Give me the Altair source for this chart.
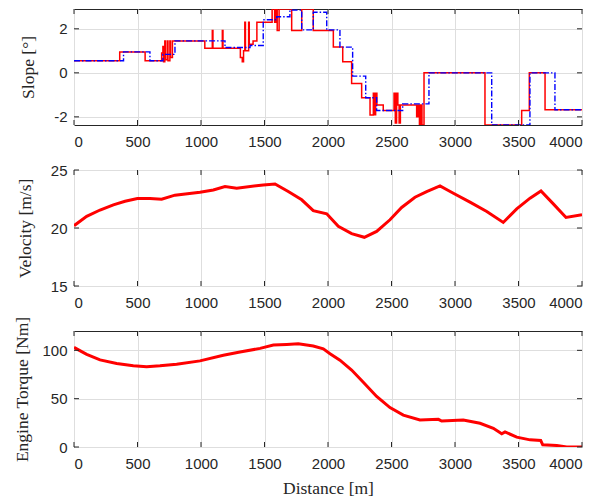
import altair as alt
import pandas as pd

# ---------------- data ----------------
# Slope, red solid series: step-change points (distance m, slope deg)
slope_red_x = [0, 360, 560, 690, 700, 705, 715, 720, 735, 740, 755, 760, 775,
               1030, 1089, 1094, 1168, 1173, 1310, 1325, 1335, 1345, 1350, 1375, 1380,
               1410, 1440, 1560, 1580, 1590, 1600, 1615, 1714, 1793, 1884,
               2042, 2116, 2186, 2265, 2331, 2357, 2365, 2375, 2385, 2409, 2435,
               2520, 2530, 2540, 2550, 2560, 2570, 2698, 2710, 2720, 2730, 2740, 2756,
               3236, 3525, 3585, 3709, 4000]
slope_red_y = [0.55, 0.95, 0.55, 0.9, 1.2, 0.5, 1.45, 0.6, 1.45, 0.55, 1.45, 0.7, 1.45,
               1.12, 1.92, 1.12, 1.92, 1.12, 0.7, 0.5, 1.0, 2.3, 1.0, 2.3, 1.3,
               1.45, 2.3, 2.9, 2.3, 2.9, 1.92, 2.9, 1.92, 2.9, 1.92,
               1.17, 0.5, -0.48, -1.13, -1.91, -0.93, -1.9, -0.93, -1.46, -1.46, -1.71,
               -0.93, -2.28, -0.93, -1.46, -2.28, -1.46, -2.0, -1.46, -2.37, -1.46, -2.37, 0.0,
               -2.37, -1.71, 0.0, -1.68, -1.68]

# Slope, blue dash-dot series
slope_blue_x = [0, 390, 598, 700, 795, 1189, 1386, 1490, 1596, 1700, 1793, 1884, 1990,
                2094, 2194, 2297, 2383, 2588, 2795, 3289, 3590, 3787, 4000]
slope_blue_y = [0.55, 0.95, 0.55, 0.84, 1.45, 1.15, 1.24, 2.41, 2.55, 2.85, 1.95, 2.75, 1.95,
                1.17, -0.15, -1.13, -1.71, -1.41, 0.0, -2.37, 0.0, -1.68, -1.68]

# Velocity [m/s]
vel_x = [0, 100, 205, 310, 402, 499, 598, 690, 795, 992, 1097, 1189, 1281, 1490, 1583,
         1687, 1793, 1884, 1990, 2081, 2186, 2286, 2383, 2488, 2580, 2685, 2777, 2882,
         2987, 3118, 3250, 3380, 3486, 3591, 3677, 3774, 3874, 4000]
vel_y = [20.2, 21.0, 21.55, 22.0, 22.3, 22.55, 22.55, 22.48, 22.83, 23.08, 23.28, 23.57,
         23.43, 23.71, 23.8, 23.14, 22.43, 21.5, 21.23, 20.14, 19.51, 19.2, 19.71, 20.71,
         21.77, 22.65, 23.14, 23.63, 23.0, 22.23, 21.43, 20.48, 21.65, 22.57, 23.2, 22.08,
         20.91, 21.15]

# Engine torque [Nm]
torque_x = [0, 100, 205, 336, 467, 572, 677, 808, 992, 1176, 1307, 1465, 1570, 1675,
            1766, 1884, 1963, 2016, 2094, 2186, 2278, 2383, 2488, 2593, 2724, 2869, 2895,
            3065, 3197, 3302, 3368, 3394, 3486, 3591, 3675, 3691, 3801, 3880, 4000]
torque_y = [103.0, 95.9, 90.1, 86.3, 84.0, 83.0, 84.0, 85.7, 89.1, 94.9, 98.3, 102.0,
            105.4, 106.1, 106.7, 104.4, 101.6, 96.5, 89.8, 79.6, 67.0, 52.3, 40.8, 33.0,
            27.9, 28.6, 26.8, 27.9, 24.5, 19.4, 13.6, 15.6, 10.2, 7.4, 6.7, 2.3, 1.6, 0.0, 0.0]

x_ticks = [0, 500, 1000, 1500, 2000, 2500, 3000, 3500, 4000]
slope_ticks = [-2, 0, 2]
vel_ticks = [15, 20, 25]
torque_ticks = [0, 50, 100]

# ---------------- chart ----------------
W, H = 508, 116
TL = 5
X_DOMAIN = [0, 4000]
FRAME = "#262626"
LABEL_FONT = "Liberation Sans"
TITLE_FONT = "Liberation Serif"


def x_enc(show_title):
    return alt.X(
        "d:Q",
        scale=alt.Scale(domain=X_DOMAIN, nice=False, zero=False),
        axis=alt.Axis(values=x_ticks, title="Distance [m]" if show_title else None,
                      labelPadding=9, titlePadding=8, labelExpr="'' + datum.value"),
    )


def y_enc(field, title, domain, ticks, tpad):
    return alt.Y(
        f"{field}:Q",
        scale=alt.Scale(domain=domain, nice=False, zero=False),
        axis=alt.Axis(values=ticks, title=title, labelPadding=7, titlePadding=tpad,
                      labelExpr="'' + datum.value"),
    )


def make_panel(lines, field, title, domain, yticks, tpad, show_xtitle):
    xe = x_enc(show_xtitle)
    ye = y_enc(field, title, domain, yticks, tpad)
    xs = pd.DataFrame({"d": x_ticks})
    ys = pd.DataFrame({field: yticks})
    rule = dict(color=FRAME, strokeWidth=1)
    top = alt.Chart(xs).mark_rule(**rule).encode(x=xe, y=alt.value(0), y2=alt.value(TL))
    bot = alt.Chart(xs).mark_rule(**rule).encode(x=xe, y=alt.value(H - TL), y2=alt.value(H))
    left = alt.Chart(ys).mark_rule(**rule).encode(y=ye, x=alt.value(0), x2=alt.value(TL))
    right = alt.Chart(ys).mark_rule(**rule).encode(y=ye, x=alt.value(W - TL), x2=alt.value(W))
    layers = [ch.encode(x=xe, y=ye) for ch in lines]
    return alt.layer(*layers, top, bot, left, right).properties(width=W, height=H)


red_df = pd.DataFrame({"d": slope_red_x, "s": slope_red_y})
blue_df = pd.DataFrame({"d": slope_blue_x, "s": slope_blue_y})
red_line = alt.Chart(red_df).mark_line(
    interpolate="step-after", color="#ff0000", strokeWidth=1.5, clip=True)
blue_line = alt.Chart(blue_df).mark_line(
    interpolate="step-after", color="#0000ff", strokeWidth=1.4,
    strokeDash=[6, 2, 1.5, 2], clip=True)
panel1 = make_panel([red_line, blue_line], "s", "Slope [°]", [-2.37, 2.9], slope_ticks, 16, False)

vel_df = pd.DataFrame({"d": vel_x, "v": vel_y})
vel_line = alt.Chart(vel_df).mark_line(color="#ff0000", strokeWidth=3, clip=True)
panel2 = make_panel([vel_line], "v", "Velocity [m/s]", [15, 25], vel_ticks, 16, False)

tq_df = pd.DataFrame({"d": torque_x, "t": torque_y})
tq_line = alt.Chart(tq_df).mark_line(color="#ff0000", strokeWidth=3, clip=True)
panel3 = make_panel([tq_line], "t", "Engine Torque [Nm]", [0, 120], torque_ticks, 10, True)

chart = alt.vconcat(panel1, panel2, panel3, spacing=45, bounds="flush").properties(
    padding={"left": 5, "top": 0, "right": 8, "bottom": 2}
).configure_view(
    stroke=FRAME, strokeWidth=1
).configure_axis(
    labelFont=LABEL_FONT, labelFontSize=15, labelColor=FRAME,
    titleFont=TITLE_FONT, titleFontSize=17.5, titleFontWeight="normal", titleColor=FRAME,
    ticks=False, domain=False, grid=True, gridColor="#dedede", gridWidth=1,
)

chart.save("out.html", embed_options={"renderer": "svg", "actions": False})
